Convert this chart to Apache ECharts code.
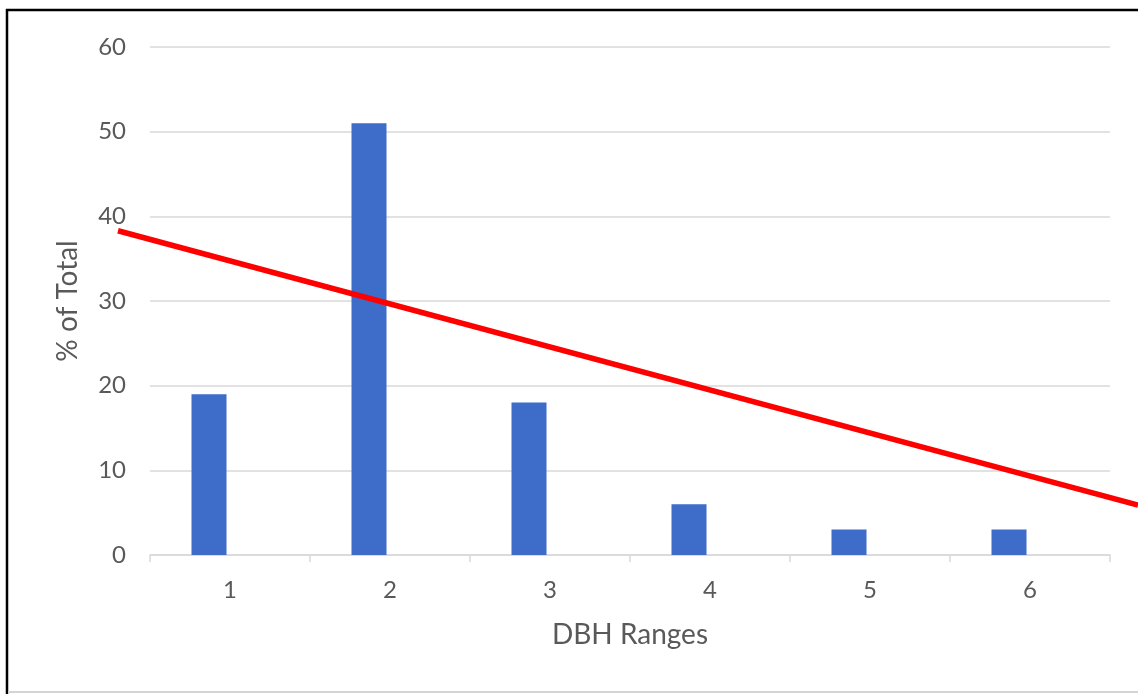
<!DOCTYPE html>
<html>
<head>
<meta charset="utf-8">
<title>DBH Ranges</title>
<script src="https://cdn.jsdelivr.net/npm/echarts@6/dist/echarts.min.js"></script>
<style>
  html, body { margin: 0; padding: 0; background: #ffffff; }
  #chart { width: 1138px; height: 694px; }
</style>
</head>
<body>
<div id="chart"></div>
<script>
// DBH size classes and their share of all trees (%)
const categories = ['1', '2', '3', '4', '5', '6'];
const percentOfTotal = [19, 51, 18, 6, 3, 3];
// second (empty) series of the clustered column layout
const emptySeries = [null, null, null, null, null, null];

// hand-drawn trend line, in category-position / percent units
const trendX = [0.3, 6.675];
const trendY = [38.3, 5.9];

const yTicks = { min: 0, max: 60, interval: 10 };

const textColor = '#595959';
const gridColor = '#d9d9d9';
const fontFamily = 'Lato, "Open Sans", sans-serif';

// plot area of the column chart
const plot = { left: 150, top: 47, width: 960, height: 508 };
const pageWidth = 1138;
// category positions run 0.5 .. 6.5 across the plot width
const unitPx = plot.width / categories.length;
const overlayMin = 0.5 - plot.left / unitPx;
const overlayMax = 0.5 + (pageWidth - plot.left) / unitPx;

const chart = echarts.init(document.getElementById('chart'), null, { renderer: 'canvas' });

const trendData = trendX.map((x, i) => [x, trendY[i]]);

chart.setOption({
  backgroundColor: '#ffffff',
  animation: false,
  grid: [
    { left: plot.left, top: plot.top, width: plot.width, height: plot.height, containLabel: false },
    // full-width overlay so the trend line can run past the plot edges
    { left: 0, top: plot.top, width: pageWidth, height: plot.height, containLabel: false }
  ],
  xAxis: [
    {
      type: 'category',
      gridIndex: 0,
      data: categories,
      name: 'DBH Ranges',
      nameLocation: 'middle',
      nameGap: 66,
      nameTextStyle: { color: textColor, fontSize: 28, fontFamily: fontFamily },
      axisLine: { lineStyle: { color: gridColor, width: 1.5 } },
      axisTick: { show: true, alignWithLabel: false, length: 7, lineStyle: { color: gridColor, width: 1.5 } },
      axisLabel: { color: textColor, fontSize: 24, fontFamily: fontFamily, margin: 23 },
      splitLine: { show: false }
    },
    {
      type: 'value',
      gridIndex: 1,
      min: overlayMin,
      max: overlayMax,
      show: false
    }
  ],
  yAxis: [
    {
      type: 'value',
      gridIndex: 0,
      min: yTicks.min,
      max: yTicks.max,
      interval: yTicks.interval,
      name: '% of Total',
      nameLocation: 'middle',
      nameGap: 68,
      nameTextStyle: { color: textColor, fontSize: 28, fontFamily: fontFamily },
      axisLine: { show: false },
      axisTick: { show: false },
      axisLabel: { color: textColor, fontSize: 24, fontFamily: fontFamily, margin: 24 },
      splitLine: { lineStyle: { color: gridColor, width: 1.5 } }
    },
    {
      type: 'value',
      gridIndex: 1,
      min: yTicks.min,
      max: yTicks.max,
      show: false
    }
  ],
  series: [
    {
      name: '% of Total',
      type: 'bar',
      xAxisIndex: 0,
      yAxisIndex: 0,
      data: percentOfTotal,
      barWidth: 35,
      barGap: '20%',
      itemStyle: { color: '#3d6cc9' }
    },
    {
      name: 'Series 2',
      type: 'bar',
      xAxisIndex: 0,
      yAxisIndex: 0,
      data: emptySeries,
      barWidth: 35,
      barGap: '20%',
      itemStyle: { color: '#ed7d31' }
    },
    {
      name: 'Trend',
      type: 'line',
      xAxisIndex: 1,
      yAxisIndex: 1,
      data: trendData,
      clip: false,
      symbol: 'none',
      lineStyle: { color: '#ff0000', width: 5.5 },
      z: 5
    }
  ],
  graphic: [
    // frame: dark top and left edges, light bottom edge
    { type: 'line', shape: { x1: 6, y1: 10, x2: 1138, y2: 10 }, style: { stroke: '#000000', lineWidth: 2.5 }, z: 10 },
    { type: 'line', shape: { x1: 7, y1: 9, x2: 7, y2: 694 }, style: { stroke: '#000000', lineWidth: 2.5 }, z: 10 },
    { type: 'line', shape: { x1: 8, y1: 692, x2: 1138, y2: 692 }, style: { stroke: '#d4d4d4', lineWidth: 2 }, z: 10 }
  ]
});
</script>
</body>
</html>
